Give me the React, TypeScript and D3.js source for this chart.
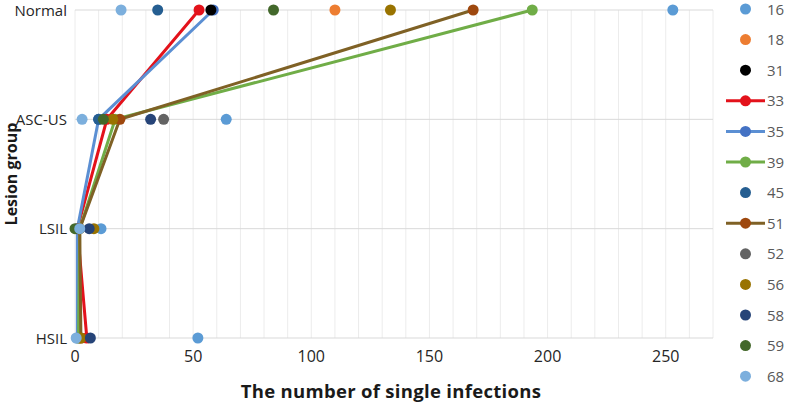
import React from "react";
import * as d3 from "d3";

const categories = ["Normal", "ASC-US", "LSIL", "HSIL"];
const xTicks = [0, 50, 100, 150, 200, 250];

// line + marker series (values per category: Normal, ASC-US, LSIL, HSIL)
const s33 = [52.5, 13.5, 1, 5];
const s35 = [58.5, 10, 1, 1];
const s39 = [193.5, 17, 2, 1.5];
const s51 = [168.5, 19, 2, 2.5];

// marker-only series
const s16 = [253, 64, 11, 52];
const s18 = [110, null, null, null];
const s31 = [57.5, null, null, null];
const s45 = [35, 10, null, null];
const s52 = [null, 37.5, null, null];
const s56 = [133.5, 16, 8, 2.5];
const s58 = [null, 32, 6, 6.5];
const s59 = [84, 12, 0, null];
const s68 = [19.5, 3, 2, 0.5];

const legendNames = ["16", "18", "31", "33", "35", "39", "45", "51", "52", "56", "58", "59", "68"];

type Series = {
  name: string;
  values: (number | null)[];
  dot: string;
  line?: string;
};

const lineSeries: Series[] = [
  { name: "33", values: s33, dot: "#e3121b", line: "#e3121b" },
  { name: "35", values: s35, dot: "#4472c4", line: "#5b8fd3" },
  { name: "39", values: s39, dot: "#70ad47", line: "#70ad47" },
  { name: "51", values: s51, dot: "#9e480e", line: "#7f6125" },
];

const dotSeries: Series[] = [
  { name: "16", values: s16, dot: "#5b9bd5" },
  { name: "18", values: s18, dot: "#ed7d31" },
  { name: "31", values: s31, dot: "#000000" },
  { name: "45", values: s45, dot: "#255e91" },
  { name: "52", values: s52, dot: "#636363" },
  { name: "56", values: s56, dot: "#997300" },
  { name: "58", values: s58, dot: "#264478" },
  { name: "59", values: s59, dot: "#43682b" },
  { name: "68", values: s68, dot: "#7cafdd" },
];

const allSeries = [...lineSeries, ...dotSeries];

const W = 787;
const H = 406;
const left = 75;
const right = 713;
const top = 10;
const bottom = 338;
const FONT = "'Open Sans', sans-serif";

export default function App() {
  const x = d3.scaleLinear().domain([0, 270]).range([left, right]);
  const y = d3.scalePoint<string>().domain(categories).range([top, bottom]).padding(0);
  const minor = d3.range(0, 271, 10);

  const lineGen = d3
    .line<{ c: string; v: number }>()
    .x((d) => x(d.v))
    .y((d) => y(d.c) as number);

  const pts = (s: Series) =>
    s.values
      .map((v, i) => ({ c: categories[i], v }))
      .filter((d) => d.v !== null) as { c: string; v: number }[];

  return (
    <svg
      width={W}
      height={H}
      style={{ position: "absolute", left: 0, top: 0, background: "#fff" }}
      fontFamily={FONT}
    >
      {/* vertical minor gridlines */}
      {minor.map((t) => (
        <line key={"g" + t} x1={x(t)} x2={x(t)} y1={top} y2={bottom} stroke="#ececec" strokeWidth={1} />
      ))}
      {/* horizontal category gridlines */}
      {categories.map((c) => (
        <line key={"h" + c} x1={left} x2={right} y1={y(c)} y2={y(c)} stroke="#d9d9d9" strokeWidth={1} />
      ))}

      {/* category labels */}
      {categories.map((c) => (
        <text key={"c" + c} x={67} y={(y(c) as number) + 5.5} textAnchor="end" fontSize={15} fill="#262626">
          {c}
        </text>
      ))}

      {/* x tick labels */}
      {xTicks.map((t) => (
        <text key={"t" + t} x={x(t)} y={362} textAnchor="middle" fontSize={16} fill="#262626">
          {t}
        </text>
      ))}

      {/* axis titles */}
      <text
        x={(left + right) / 2 - 3}
        y={398}
        textAnchor="middle"
        fontSize={18.5}
        fontWeight="bold"
        letterSpacing={0.3}
        fill="#1a1a1a"
      >
        The number of single infections
      </text>
      <text
        transform={`translate(17, ${(top + bottom) / 2}) rotate(-90)`}
        textAnchor="middle"
        fontSize={16}
        fontWeight="bold"
        fill="#1a1a1a"
      >
        Lesion group
      </text>

      {/* lines */}
      {lineSeries.map((s) => (
        <path key={"l" + s.name} d={lineGen(pts(s)) || ""} fill="none" stroke={s.line} strokeWidth={3} />
      ))}
      {/* line series markers */}
      {lineSeries.map((s) =>
        pts(s).map((d, i) => (
          <circle key={s.name + "-" + i} cx={x(d.v)} cy={y(d.c)} r={5.5} fill={s.dot} />
        ))
      )}
      {/* marker-only series */}
      {dotSeries.map((s) =>
        pts(s).map((d, i) => (
          <circle key={s.name + "-" + i} cx={x(d.v)} cy={y(d.c)} r={5.5} fill={s.dot} />
        ))
      )}

      {/* legend */}
      {legendNames.map((n, i) => {
        const s = allSeries.find((q) => q.name === n)!;
        const ly = 9 + i * 30.6;
        return (
          <g key={"lg" + n}>
            {s.line && <line x1={726} x2={765} y1={ly} y2={ly} stroke={s.line} strokeWidth={3} />}
            <circle cx={745.5} cy={ly} r={5.5} fill={s.dot} />
            <text x={767} y={ly + 5.5} fontSize={15} fill="#595959">
              {n}
            </text>
          </g>
        );
      })}
    </svg>
  );
}
